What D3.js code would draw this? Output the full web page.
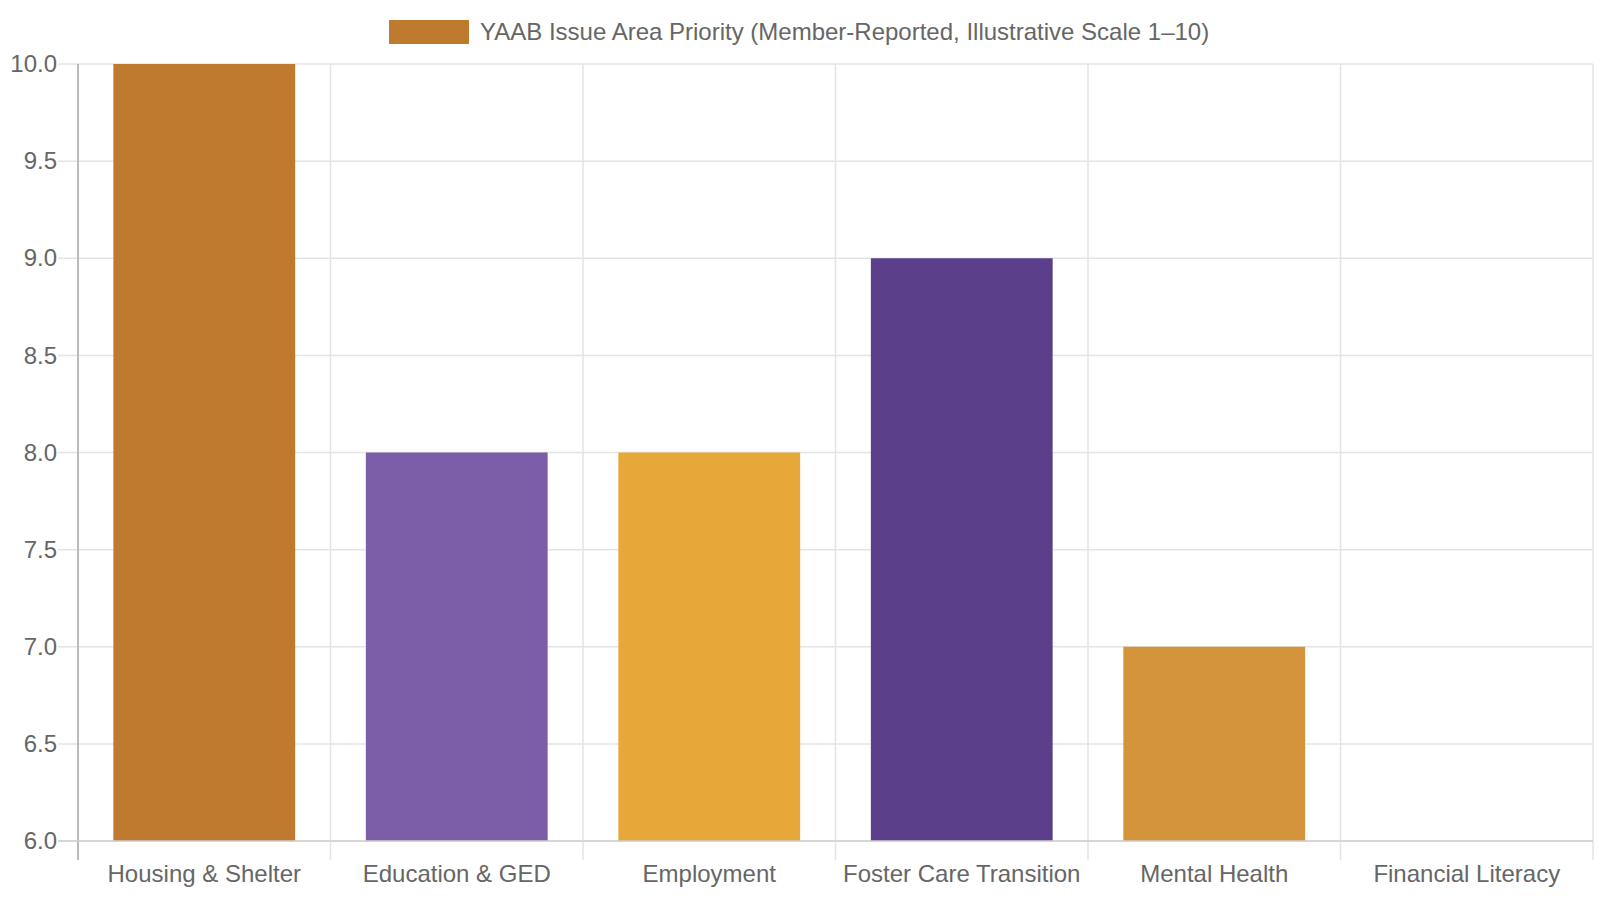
<!DOCTYPE html>
<html>
<head>
<meta charset="utf-8">
<script src="https://cdn.jsdelivr.net/npm/d3@7"></script>
<style>
  body { margin: 0; background: #fff; }
  text { font-family: "Liberation Sans", Arial, sans-serif; }
</style>
</head>
<body>
<div id="chart"></div>
<script>
// data
const categories = ['Housing & Shelter', 'Education & GED', 'Employment', 'Foster Care Transition', 'Mental Health', 'Financial Literacy'];
const priority = [10, 8, 8, 9, 7, 6];
const barColors = ['#c07a30', '#7b5ea7', '#e7a83a', '#5c3f8a', '#d4943b', '#c07a30'];
const yTicks = [6.0, 6.5, 7.0, 7.5, 8.0, 8.5, 9.0, 9.5, 10.0];
const seriesLabel = 'YAAB Issue Area Priority (Member-Reported, Illustrative Scale 1–10)';

const W = 1600, H = 900;
const margin = { top: 64, right: 7, bottom: 59, left: 78 };
const width = W - margin.left - margin.right;
const height = H - margin.top - margin.bottom;

let svg = d3.select('#chart').append('svg')
  .attr('width', W)
  .attr('height', H);

let g = svg.append('g')
  .attr('transform', `translate(${margin.left},${margin.top})`);

let x = d3.scaleBand()
  .domain(categories)
  .range([0, width])
  .paddingInner(0)
  .paddingOuter(0);

let y = d3.scaleLinear()
  .domain([6, 10])
  .range([height, 0]);

// horizontal grid, pushed out left over the tick area
g.append('g')
  .selectAll('line')
  .data(yTicks)
  .join('line')
  .attr('x1', -20)
  .attr('x2', width)
  .attr('y1', d => y(d))
  .attr('y2', d => y(d))
  .attr('stroke', '#e4e4e4')
  .attr('stroke-width', 1.5);

// vertical grid at category edges
let edges = categories.map(c => x(c)).concat([width]);
g.append('g')
  .selectAll('line')
  .data(edges)
  .join('line')
  .attr('x1', d => d)
  .attr('x2', d => d)
  .attr('y1', 0)
  .attr('y2', height + 19)
  .attr('stroke', '#e4e4e4')
  .attr('stroke-width', 1.5);

// bars
let bw = x.bandwidth() * 0.72;
g.append('g')
  .selectAll('rect')
  .data(categories)
  .join('rect')
  .attr('x', d => x(d) + (x.bandwidth() - bw) / 2)
  .attr('width', bw)
  .attr('y', (d, i) => y(priority[i]))
  .attr('height', (d, i) => height - y(priority[i]))
  .attr('fill', (d, i) => barColors[i]);

// y axis
let yAxis = d3.axisLeft(y)
  .tickValues(yTicks)
  .tickFormat(d3.format('.1f'))
  .tickSize(0)
  .tickPadding(21);

g.append('g')
  .call(yAxis)
  .call(s => s.select('.domain').remove())
  .selectAll('text')
  .attr('fill', '#666')
  .style('font-size', '24px')
  .style('font-family', '"Liberation Sans", Arial, sans-serif');

// x axis
let xAxis = d3.axisBottom(x)
  .tickSize(0)
  .tickPadding(24);

g.append('g')
  .attr('transform', `translate(0,${height})`)
  .call(xAxis)
  .call(s => s.select('.domain').remove())
  .selectAll('text')
  .attr('fill', '#666')
  .style('font-size', '24px')
  .style('font-family', '"Liberation Sans", Arial, sans-serif');

// axis borders
g.append('line')
  .attr('x1', 0).attr('x2', 0)
  .attr('y1', 0).attr('y2', height + 19)
  .attr('stroke', '#aaa')
  .attr('stroke-width', 1.5);

g.append('line')
  .attr('x1', -20).attr('x2', width)
  .attr('y1', height).attr('y2', height)
  .attr('stroke', '#cfcfcf')
  .attr('stroke-width', 1.5);

// legend
let legend = svg.append('g').attr('transform', 'translate(389,20)');
legend.append('rect')
  .attr('width', 80)
  .attr('height', 24)
  .attr('fill', barColors[0]);
legend.append('text')
  .attr('x', 91)
  .attr('y', 12)
  .attr('dy', '0.35em')
  .attr('fill', '#666')
  .style('font-size', '24px')
  .text(seriesLabel);
</script>
</body>
</html>
